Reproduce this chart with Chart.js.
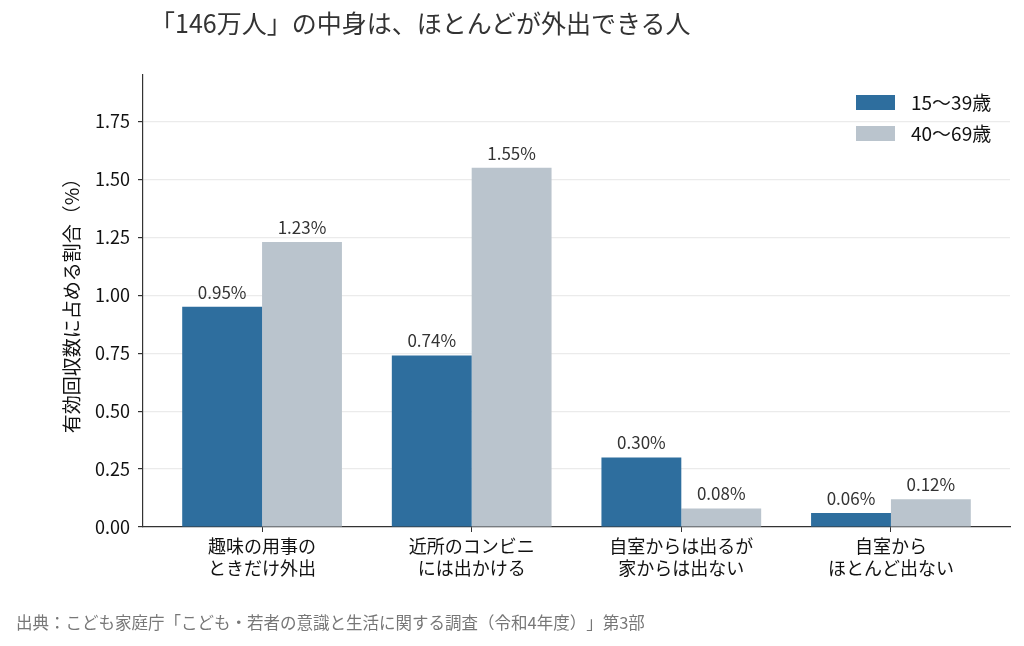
<!DOCTYPE html>
<html lang="ja">
<head>
<meta charset="utf-8">
<script src="https://cdn.jsdelivr.net/npm/chart.js@4/dist/chart.umd.min.js"></script>
<style>
  html, body { margin: 0; padding: 0; background: #fff; }
  #wrap { position: relative; width: 1024px; height: 646px; font-family: "Noto Sans CJK JP", "Noto Sans", sans-serif; text-spacing-trim: space-all; }
  #title { position: absolute; left: 150px; top: 4px; font-size: 25px; line-height: 36px; color: #333; white-space: nowrap; }
  #source { position: absolute; left: 16px; top: 610px; font-size: 16.5px; line-height: 24px; color: #777; white-space: nowrap; }
</style>
</head>
<body>
<div id="wrap">
  <canvas id="chart" width="1024" height="646"></canvas>
  <div id="title">「146万人」の中身は、ほとんどが外出できる人</div>
  <div id="source">出典：こども家庭庁「こども・若者の意識と生活に関する調査（令和4年度）」第3部</div>
</div>
<script>
var categories = [
    ['趣味の用事の', 'ときだけ外出'],
    ['近所のコンビニ', 'には出かける'],
    ['自室からは出るが', '家からは出ない'],
    ['自室から', 'ほとんど出ない']
];
var seriesNames = ['15〜39歳', '40〜69歳'];
var young = [0.95, 0.74, 0.30, 0.06];
var older = [1.23, 1.55, 0.08, 0.12];
var yTicks = [0, 0.25, 0.5, 0.75, 1.0, 1.25, 1.5, 1.75];

var FONT = '"Noto Sans CJK JP", "Noto Sans", sans-serif';

function points(arr) {
    return arr.map(function(v, i) { return { x: i, y: v }; });
}

// value labels above each bar
var barLabels = {
    id: 'barLabels',
    afterDatasetsDraw: function(chart) {
        var ctx = chart.ctx;
        ctx.save();
        ctx.font = '17px ' + FONT;
        ctx.fillStyle = '#333';
        ctx.textAlign = 'center';
        ctx.textBaseline = 'bottom';
        chart.data.datasets.forEach(function(ds, di) {
            chart.getDatasetMeta(di).data.forEach(function(bar, i) {
                ctx.fillText(ds.data[i].y.toFixed(2) + '%', bar.x, bar.y - 6);
            });
        });
        ctx.restore();
    }
};

// legend in the upper right of the plot
var innerLegend = {
    id: 'innerLegend',
    afterDraw: function(chart) {
        var ctx = chart.ctx;
        ctx.save();
        ctx.font = '19px ' + FONT;
        ctx.textBaseline = 'middle';
        ctx.textAlign = 'left';
        chart.data.datasets.forEach(function(ds, di) {
            var y = 102 + di * 31;
            ctx.fillStyle = ds.backgroundColor;
            ctx.fillRect(856, y - 7, 39, 15);
            ctx.fillStyle = '#111';
            ctx.fillText(ds.label, 911, y + 1);
        });
        ctx.restore();
    }
};

var ctx = document.getElementById('chart').getContext('2d');
var chart = new Chart(ctx, {
    type: 'bar',
    data: {
        datasets: [{
            label: seriesNames[0],
            data: points(young),
            backgroundColor: '#2e6e9e'
        }, {
            label: seriesNames[1],
            data: points(older),
            backgroundColor: '#bac4cd'
        }]
    },
    options: {
        responsive: false,
        animation: false,
        layout: { padding: { left: 60, right: 14, top: 75, bottom: 0 } },
        datasets: { bar: { categoryPercentage: 0.762, barPercentage: 1.0 } },
        plugins: {
            legend: { display: false },
            title: { display: false },
            tooltip: { enabled: false }
        },
        scales: {
            x: {
                type: 'linear',
                offset: false,
                min: -0.568,
                max: 3.568,
                afterFit: function(scale) { scale.height = 119; },
                afterBuildTicks: function(scale) {
                    scale.ticks = categories.map(function(c, i) { return { value: i }; });
                },
                ticks: {
                    autoSkip: false,
                    maxRotation: 0,
                    padding: 3,
                    color: '#111',
                    font: { family: FONT, size: 18, lineHeight: 1.22 },
                    callback: function(v) { return categories[v]; }
                },
                grid: {
                    offset: false,
                    drawOnChartArea: false,
                    drawTicks: true,
                    tickLength: 5,
                    tickColor: '#333'
                },
                border: { color: '#333', width: 1.2 }
            },
            y: {
                min: 0,
                max: 1.95,
                afterFit: function(scale) { scale.width = 83; },
                afterBuildTicks: function(scale) {
                    scale.ticks = yTicks.map(function(v) { return { value: v }; });
                },
                ticks: {
                    color: '#111',
                    padding: 8,
                    font: { family: FONT, size: 18 },
                    callback: function(v) { return v.toFixed(2); }
                },
                title: {
                    display: true,
                    text: '有効回収数に占める割合（%）',
                    color: '#111',
                    padding: 0,
                    font: { family: FONT, size: 19 }
                },
                grid: {
                    color: function(c) { return c.tick && c.tick.value === 0 ? 'rgba(0,0,0,0)' : '#ebebeb'; },
                    lineWidth: 1.2,
                    tickLength: 5,
                    tickColor: '#333'
                },
                border: { color: '#333', width: 1.2 }
            }
        }
    },
    plugins: [barLabels, innerLegend]
});
</script>
</body>
</html>
